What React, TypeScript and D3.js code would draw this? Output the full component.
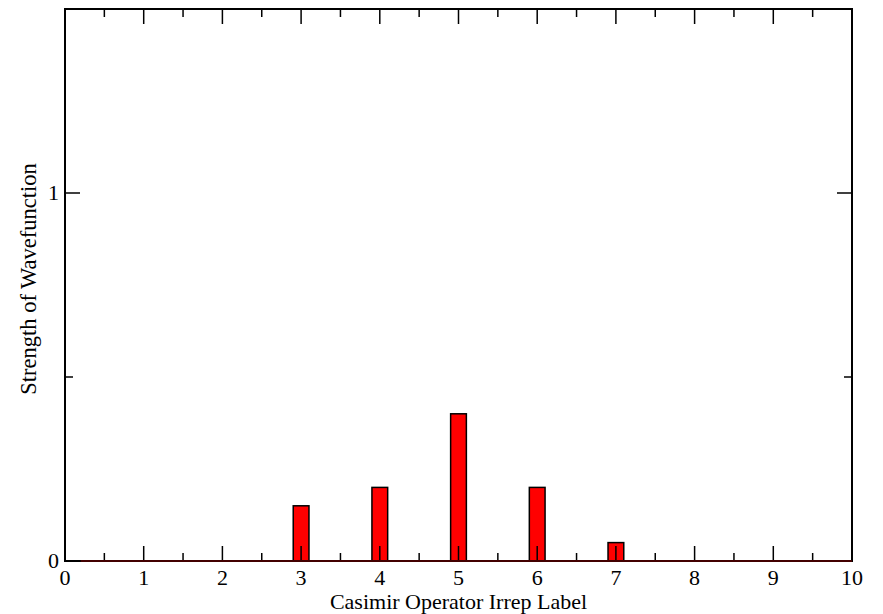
import React, { useEffect, useRef } from "react";
import * as d3 from "d3";

const irrepLabels = [3, 4, 5, 6, 7];
const strengths = [0.15, 0.2, 0.4, 0.2, 0.05];
const xTicks = [0, 1, 2, 3, 4, 5, 6, 7, 8, 9, 10];
const xMinorTicks = [0.5, 1.5, 2.5, 3.5, 4.5, 5.5, 6.5, 7.5, 8.5, 9.5];
const yTicks = [0, 1];
const yMinorTicks = [0.5];

const App = () => {
  const svgRef = useRef<SVGSVGElement | null>(null);
  const width = 883;
  const height = 614;
  const margin = { top: 9, right: 31, bottom: 53, left: 65 };
  const font = "'Liberation Serif', 'Times New Roman', serif";

  useEffect(() => {
    const svgEl = d3.select(svgRef.current);
    svgEl.selectAll("*").remove();

    const x = d3
      .scaleLinear()
      .domain([0, 10])
      .range([margin.left, width - margin.right]);

    const y = d3
      .scaleLinear()
      .domain([0, 1.5])
      .range([height - margin.bottom, margin.top]);

    const barW = x(0.2) - x(0);
    const data = irrepLabels.map((d, i) => ({ label: d, value: strengths[i] }));

    // bars
    svgEl
      .append("g")
      .attr("class", "bars")
      .selectAll("rect")
      .data(data)
      .join("rect")
      .attr("x", (d) => x(d.label) - barW / 2)
      .attr("y", (d) => y(d.value))
      .attr("width", barW)
      .attr("height", (d) => y(0) - y(d.value))
      .attr("fill", "#ff0000")
      .attr("stroke", "#000")
      .attr("stroke-width", 1.5);

    const ticks = svgEl.append("g").attr("stroke", "#000").attr("stroke-width", 1.5);
    const x0 = x(0);
    const x1 = x(10);
    const y0 = y(0);
    const y1 = y(1.5);

    // x ticks, bottom and top
    const xt = (vals: number[], len: number) => {
      ticks
        .append("g")
        .selectAll("line")
        .data(vals)
        .join("line")
        .attr("x1", (d) => x(d))
        .attr("x2", (d) => x(d))
        .attr("y1", y0)
        .attr("y2", y0 - len);
      ticks
        .append("g")
        .selectAll("line")
        .data(vals)
        .join("line")
        .attr("x1", (d) => x(d))
        .attr("x2", (d) => x(d))
        .attr("y1", y1)
        .attr("y2", y1 + len);
    };
    xt(xTicks.slice(1, -1), 15);
    xt(xMinorTicks, 8);

    const yt = (vals: number[], len: number) => {
      ticks
        .append("g")
        .selectAll("line")
        .data(vals)
        .join("line")
        .attr("x1", x0)
        .attr("x2", x0 + len)
        .attr("y1", (d) => y(d))
        .attr("y2", (d) => y(d));
      ticks
        .append("g")
        .selectAll("line")
        .data(vals)
        .join("line")
        .attr("x1", x1)
        .attr("x2", x1 - len)
        .attr("y1", (d) => y(d))
        .attr("y2", (d) => y(d));
    };
    yt(yTicks.slice(1), 15);
    yt(yMinorTicks, 8);

    // frame
    svgEl
      .append("rect")
      .attr("x", x0)
      .attr("y", y1)
      .attr("width", x1 - x0)
      .attr("height", y0 - y1)
      .attr("fill", "none")
      .attr("stroke", "#000")
      .attr("stroke-width", 2);

    // zero-height bar outline along the baseline (reddish)
    svgEl
      .append("line")
      .attr("x1", x(0.2))
      .attr("x2", x1)
      .attr("y1", y0)
      .attr("y2", y0)
      .attr("stroke", "#5a0000")
      .attr("stroke-width", 1.5);

    // tick labels
    svgEl
      .append("g")
      .attr("font-family", font)
      .attr("font-size", 22)
      .attr("text-anchor", "middle")
      .selectAll("text")
      .data(xTicks)
      .join("text")
      .attr("x", (d) => x(d))
      .attr("y", y0 + 24)
      .text((d) => d);

    svgEl
      .append("g")
      .attr("font-family", font)
      .attr("font-size", 22)
      .attr("text-anchor", "end")
      .selectAll("text")
      .data(yTicks)
      .join("text")
      .attr("x", x0 - 6)
      .attr("y", (d) => y(d) + 7)
      .text((d) => d);

    // axis labels
    svgEl
      .append("text")
      .attr("font-family", font)
      .attr("font-size", 22)
      .attr("text-anchor", "middle")
      .attr("x", (x0 + x1) / 2)
      .attr("y", y0 + 48)
      .text("Casimir Operator Irrep Label");

    svgEl
      .append("text")
      .attr("font-family", font)
      .attr("font-size", 22.5)
      .attr("text-anchor", "middle")
      .attr("transform", `translate(36,${279}) rotate(-90)`)
      .text("Strength of Wavefunction");
  }, []);

  return (
    <svg
      ref={svgRef}
      width={width}
      height={height}
      style={{ position: "absolute", left: 0, top: 0, background: "#fff" }}
    />
  );
};

export default App;
